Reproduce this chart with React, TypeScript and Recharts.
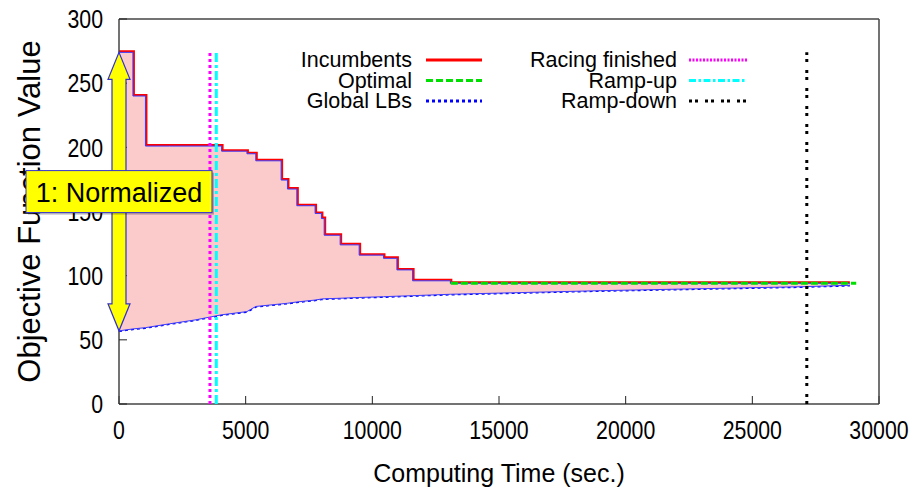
import React from 'react';
import { ComposedChart, Line, Area, XAxis, YAxis, ReferenceLine, Legend } from 'recharts';

// ---- data ----
const times = [0, 550, 550, 1044, 1044, 2000, 3000, 4050, 4050, 5050, 5050, 5400, 5400, 6400, 6400, 6650, 6650, 7020, 7020, 7740, 7740, 7990, 7990, 8100, 8100, 8730, 8730, 9480, 9480, 10440, 10440, 10970, 10970, 11590, 11590, 13080, 13080, 19000, 27000, 28850];
const incumbents = [274, 274, 240, 240, 201, 201, 201, 201, 197, 197, 195, 195, 189.5, 189.5, 174.5, 174.5, 167.5, 167.5, 154.5, 154.5, 148.5, 148.5, 144.5, 144.5, 131.5, 131.5, 124, 124, 116, 116, 113.5, 113.5, 104.5, 104.5, 96, 96, 94, 94, 94, 94];
const globalLBs = [57, 58.5, 58.5, 59.5, 59.5, 62.5, 65.5, 69.5, 69.5, 72, 72, 76, 76, 78, 78, 78.5, 78.5, 79.5, 79.5, 81, 81, 81.8, 81.8, 82, 82, 82.4, 82.4, 83, 83, 83.6, 83.6, 84, 84, 84.4, 84.4, 85.5, 85.5, 88.3, 91.4, 92.5];

const optimalTimes = [13100, 29100];
const optimalValues = [94, 94];

const racingFinished = 3590;
const rampUp = 3840;
const rampDown = 27150;
const markerTop = 274;

const normalizedTop = 274;
const normalizedBottom = 57;
const normalizedLabel = '1: Normalized';

const xTicks = [0, 5000, 10000, 15000, 20000, 25000, 30000];
const yTicks = [0, 50, 100, 150, 200, 250, 300];

const xTitle = 'Computing Time (sec.)';
const yTitle = 'Objective Function Value';

const legendCol1 = [
  { name: 'Incumbents', color: '#ff0000', dash: undefined as string | undefined, width: 3 },
  { name: 'Optimal', color: '#00e000', dash: '7 3', width: 3 },
  { name: 'Global LBs', color: '#0000ff', dash: '3 3', width: 3 },
];
const legendCol2 = [
  { name: 'Racing finished', color: '#ff00ff', dash: '2 1.5', width: 3 },
  { name: 'Ramp-up', color: '#00ffff', dash: '7 2.5 2.5 2.5', width: 3 },
  { name: 'Ramp-down', color: '#000000', dash: '3 3 3 7', width: 3 },
];

// ---- tables built from the arrays ----
const table = times.map((t, i) => ({ t, inc: incumbents[i], lb: globalLBs[i], range: [globalLBs[i], incumbents[i]] }));
const optimalData = optimalTimes.map((t, i) => ({ t, v: optimalValues[i] }));

const SANS = "'Liberation Sans', Arial, Helvetica, sans-serif";

const NarrowTick = (props: any) => {
  const { x, y, payload, textAnchor, verticalAnchor } = props;
  const dy = verticalAnchor === 'start' ? '0.71em' : verticalAnchor === 'end' ? '0' : '0.355em';
  return (
    <text x={0} y={0} dy={dy} transform={`translate(${x},${y}) scale(0.82,1)`} textAnchor={textAnchor}
      fontSize={26} fontFamily={SANS} fill="#000">{payload.value}</text>
  );
};

const NormalizedArrow = (p: any) => {
  const cx = p.x1;
  const yTop = Math.min(p.y1, p.y2);
  const yBot = Math.max(p.y1, p.y2);
  const hw = 11, sw = 7, hl = 27;
  const pts = [
    [cx, yTop], [cx + hw, yTop + hl], [cx + sw, yTop + hl], [cx + sw, yBot - hl], [cx + hw, yBot - hl],
    [cx, yBot], [cx - hw, yBot - hl], [cx - sw, yBot - hl], [cx - sw, yTop + hl], [cx - hw, yTop + hl],
  ].map((q) => q.join(',')).join(' ');
  const cy = (yTop + yBot) / 2;
  const bw = 186, bh = 42;
  return (
    <g>
      <polygon points={pts} fill="#ffff00" stroke="#3030d0" strokeWidth={1.2} />
      <rect x={cx - bw / 2 + 2} y={cy - bh / 2 + 2} width={bw} height={bh} fill="rgba(0,0,0,0.25)" />
      <rect x={cx - bw / 2} y={cy - bh / 2} width={bw} height={bh} fill="#ffff00" stroke="#3030d0" strokeWidth={1} />
      <text x={cx} y={cy + 10} textAnchor="middle" fontSize={27} fontFamily={SANS} fill="#000">{normalizedLabel}</text>
    </g>
  );
};

const renderLegend = () => {
  const rowY = [60, 80.5, 101];
  const col = (items: typeof legendCol1, textRight: number, x1: number, x2: number) =>
    items.map((it, i) => (
      <g key={it.name}>
        <text x={textRight} y={rowY[i] + 7} textAnchor="end" fontSize={21.5} fontFamily={SANS} fill="#000">{it.name}</text>
        <line x1={x1} x2={x2} y1={rowY[i]} y2={rowY[i]} stroke={it.color} strokeWidth={it.width} strokeDasharray={it.dash} />
      </g>
    ));
  return (
    <svg width={914} height={120} style={{ display: 'block' }}>
      {col(legendCol1, 412, 426, 482)}
      {col(legendCol2, 677, 689, 747)}
    </svg>
  );
};

const XTitle = (props: any) => {
  const vb = props.viewBox;
  return (
    <text x={vb.x + vb.width / 2} y={vb.y + vb.height - 2} textAnchor="middle" fontSize={25} fontFamily={SANS} fill="#000">{xTitle}</text>
  );
};

const YTitle = (props: any) => {
  const vb = props.viewBox;
  const x = vb.x - 19;
  const y = vb.y + vb.height / 2;
  return (
    <text x={x} y={y} transform={`rotate(-90, ${x}, ${y})`} textAnchor="middle" fontSize={31} fontFamily={SANS} fill="#000">{yTitle}</text>
  );
};

export default function App() {
  const axisLine = { stroke: '#444', strokeWidth: 1.5 };
  const tickLine = { stroke: '#222', strokeWidth: 1 };
  return (
    <div style={{ position: 'absolute', left: 0, top: 0, width: 914, height: 488, background: '#fff' }}>
      <ComposedChart width={914} height={488} data={table} margin={{ top: 18, right: 34, bottom: 4, left: 59 }}>
        <XAxis dataKey="t" type="number" domain={[0, 30000]} ticks={xTicks} height={80} tickSize={-8} tickMargin={25}
          tick={<NarrowTick />} axisLine={axisLine} tickLine={tickLine} interval={0} label={<XTitle />} />
        <XAxis xAxisId="top" orientation="top" dataKey="t" type="number" domain={[0, 30000]} ticks={xTicks} height={1}
          tickSize={-8} tick={false} axisLine={axisLine} tickLine={tickLine} />
        <YAxis type="number" domain={[0, 300]} ticks={yTicks} width={60} tickSize={-8} tickMargin={24}
          tick={<NarrowTick />} axisLine={axisLine} tickLine={tickLine} interval={0} label={<YTitle />} />
        <YAxis yAxisId="r" orientation="right" type="number" domain={[0, 300]} ticks={yTicks} width={1}
          tickSize={-8} tick={false} axisLine={axisLine} tickLine={tickLine} />
        <Line dataKey="inc" type="linear" stroke="#ff0000" strokeWidth={4} dot={false} isAnimationActive={false} legendType="none" zIndex={90} />
        <Area dataKey="range" type="linear" fill="#fbcaca" fillOpacity={1} stroke="#3a3aff" strokeWidth={1} isAnimationActive={false} legendType="none" zIndex={100} />
        <Line dataKey="lb" type="linear" stroke="#0000ff" strokeWidth={2.5} strokeDasharray="3 3" dot={false} isAnimationActive={false} legendType="none" zIndex={95} />
        <Line data={optimalData} dataKey="v" type="linear" stroke="#00e000" strokeWidth={3} strokeDasharray="7 3" dot={false} isAnimationActive={false} legendType="none" zIndex={400} />
        <ReferenceLine segment={[{ x: racingFinished, y: 0 }, { x: racingFinished, y: markerTop }]} stroke="#ff00ff" strokeWidth={3} strokeDasharray="3 3" ifOverflow="visible" zIndex={500} />
        <ReferenceLine segment={[{ x: rampUp, y: 0 }, { x: rampUp, y: markerTop }]} stroke="#00ffff" strokeWidth={3} strokeDasharray="9 3 3 3" ifOverflow="visible" zIndex={500} />
        <ReferenceLine segment={[{ x: rampDown, y: 0 }, { x: rampDown, y: markerTop }]} stroke="#000000" strokeWidth={3} strokeDasharray="3 4 3 8" ifOverflow="visible" zIndex={500} />
        <ReferenceLine segment={[{ x: 0, y: normalizedTop }, { x: 0, y: normalizedBottom }]} shape={NormalizedArrow} ifOverflow="visible" zIndex={2000} />
        <Legend content={renderLegend} layout="horizontal" verticalAlign="middle" align="center"
          wrapperStyle={{ position: 'absolute', left: 0, top: 0, width: 914, height: 120, pointerEvents: 'none' }} />
      </ComposedChart>
    </div>
  );
}
